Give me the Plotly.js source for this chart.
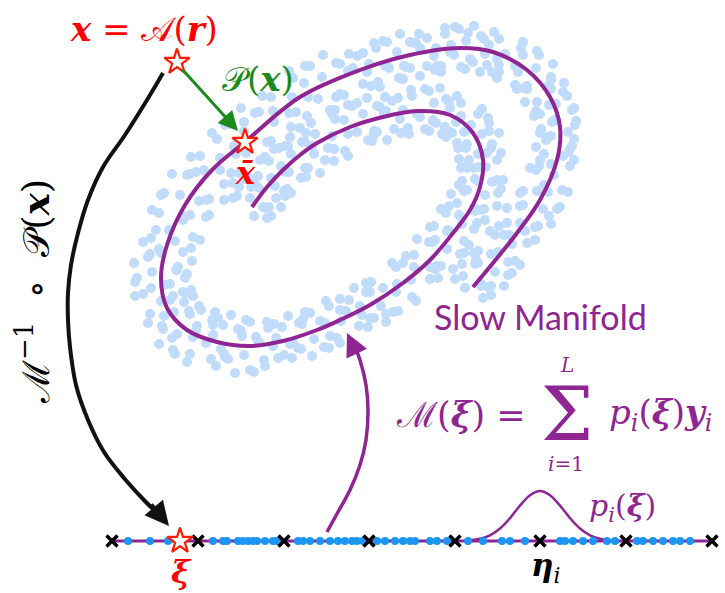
<!DOCTYPE html>
<html><head><meta charset="utf-8">
<script src="https://cdn.plot.ly/plotly-3.0.1.min.js"></script>
<style>html,body{margin:0;padding:0;background:#fff;} #chart{width:725px;height:593px;}</style>
</head><body><div id="chart"></div>
<script>
// Slow manifold centreline (from inner end to outer end)
const spiralX = [252,267,283,300,317,350,383,417,450,473,483,480,470,453,430,403,370,340,317,283,250,217,187,167,161,167,185,212,245,300,360,410,460,493,527,550,560,557,540,517,493,473];
const spiralY = [207,187,170,155,143,127,117,111,115,133,160,187,210,233,260,283,305,320,330,341,346,342,330,308,278,245,205,170,142,97,70,55,48,52,70,97,127,160,200,233,263,287];

// Noisy samples around the manifold (three groups)
const cloudA = [
[267,218],[250,198],[233,198],[237,196],[271,216],
[251,187],[265,208],[281,207],[269,207],[239,187],
[275,186],[249,178],[276,198],[259,188],[258,176],
[291,193],[269,161],[271,178],[265,157],[285,172],
[301,178],[291,154],[274,149],[279,148],[306,177],
[302,142],[305,168],[320,173],[308,168],[290,137],
[328,148],[306,133],[325,160],[312,146],[315,134],
[348,156],[335,119],[332,136],[332,114],[348,134],
[368,140],[363,114],[348,105],[352,106],[372,141],
[377,106],[374,131],[387,140],[377,132],[367,98],
[400,119],[385,97],[394,129],[386,111],[392,101],
[409,134],[412,96],[403,110],[411,90],[417,114],
[425,129],[434,103],[425,89],[429,91],[429,131],
[446,99],[433,121],[442,134],[436,123],[440,88],
[456,122],[457,96],[445,127],[450,108],[461,103],
[446,137],[478,114],[461,116],[482,109],[467,130],
[457,143],[482,134],[488,118],[489,123],[458,148],
[492,144],[467,144],[459,159],[466,148],[499,133],
[479,167],[501,153],[469,160],[487,153],[497,160],
[461,168],[497,180],[486,167],[503,180],[478,181],
[462,181],[485,195],[501,189],[498,193],[459,185],
[484,209],[467,190],[451,194],[464,191],[497,206],
[459,215],[485,220],[457,203],[475,211],[477,223],
[441,209],[464,241],[462,224],[469,245],[448,230],
[434,226],[447,249],[464,253],[460,254],[430,227],
[441,266],[433,242],[417,239],[429,242],[453,269],
[414,267],[438,278],[414,255],[430,267],[430,279],
[392,263],[412,297],[411,280],[416,301],[397,284],
[371,282],[381,306],[398,311],[393,312],[366,283],
[374,318],[370,292],[354,288],[366,292],[386,322],
[346,311],[368,327],[349,300],[362,315],[359,326],
[326,301],[337,338],[341,321],[340,343],[325,323],
[310,313],[314,339],[329,348],[324,347],[305,312],
[301,349],[302,324],[288,316],[299,323],[312,356],
[276,338],[292,358],[282,327],[290,344],[284,355],
[267,322],[264,360],[273,346],[265,366],[259,342],
[250,322],[244,355],[254,372],[250,370],[246,320],
[228,359],[241,331],[231,315],[238,329],[235,373],
[213,335],[216,366],[223,325],[221,349],[211,359],
[215,312],[190,354],[206,343],[187,362],[196,331],
[201,310],[177,334],[175,354],[173,350],[199,306],
[163,329],[190,314],[193,296],[189,311],[159,344],
[170,300],[148,323],[184,302],[164,316],[150,314],
[191,290],[143,294],[161,301],[135,296],[165,285],
[185,278],[152,272],[135,282],[137,278],[187,274],
[148,257],[176,270],[192,261],[178,267],[134,263],
[175,241],[143,242],[183,252],[159,249],[151,238],
[200,240],[159,213],[169,230],[152,210],[183,220],
[206,217],[180,195],[161,195],[164,193],[209,215],
[187,175],[206,200],[224,200],[209,199],[172,174],
[220,170],[191,157],[224,184],[204,170],[200,156],
[244,179],[217,139],[220,158],[212,133],[236,154],
[260,160],[244,131],[225,125],[230,124],[265,159],
[255,113],[267,142],[285,146],[271,141],[241,108],
[289,113],[262,96],[291,127],[273,111],[271,97],
[311,123],[293,78],[292,97],[289,71],[308,97],
[330,110],[322,77],[305,66],[310,66],[335,110],
[336,63],[340,94],[357,103],[344,95],[323,55],
[367,72],[349,54],[363,84],[353,68],[357,56],
[380,87],[376,48],[369,64],[374,43],[385,66],
[399,78],[397,52],[383,41],[387,42],[403,79],
[410,42],[406,67],[420,76],[410,68],[400,34],
[434,56],[419,34],[427,66],[420,48],[427,38],
[441,72],[445,34],[436,48],[445,28],[450,52],
[461,67],[466,41],[455,27],[459,29],[465,69],
[481,36],[470,59],[480,72],[473,62],[474,26],
[497,59],[494,32],[487,65],[489,45],[499,39],
[497,78],[521,48],[505,54],[523,42],[515,66],
[515,85],[536,68],[537,51],[539,55],[517,89],
[551,77],[527,86],[525,102],[527,89],[553,64],
[549,105],[564,83],[537,102],[551,89],[563,92],
[534,116],[572,110],[556,104],[574,108],[556,120],
[541,129],[568,132],[576,121],[575,125],[540,133],
[572,146],[548,137],[536,147],[546,140],[574,139],
[551,164],[574,160],[544,154],[563,156],[570,166],
[530,168],[562,190],[554,175],[568,192],[544,185],
[523,191],[543,209],[560,207],[557,209],[520,193],
[538,226],[523,205],[507,208],[520,206],[551,224],
[509,235],[535,240],[507,223],[525,231],[527,243],
[490,231],[515,261],[512,244],[520,265],[498,252],
[478,251],[495,272],[512,273],[508,275],[474,253],
[491,286],[478,263],[462,264],[475,264],[504,286],
[465,288],[491,295],[463,276],[481,286],[483,298]
];
const cloudB = [
[254,216],[255,186],[285,196],[287,189],[289,172],[305,142],[334,161],[345,151],[357,132],[380,107],
[401,133],[408,128],[420,117],[449,101],[449,134],[450,132],[464,132],[491,148],[465,167],[467,168],
[475,179],[481,210],[449,206],[446,213],[447,231],[437,266],[406,256],[396,267],[383,288],[370,318],
[340,299],[329,306],[320,321],[298,348],[274,324],[268,328],[256,337],[225,357],[218,318],[212,320],
[197,326],[162,326],[186,293],[183,292],[170,284],[150,254],[191,248],[193,237],[190,215],[190,174],
[233,183],[239,173],[246,153],[259,112],[300,128],[307,116],[318,99],[340,64],[371,86],[378,82],
[389,68],[414,43],[435,70],[441,66],[454,55],[484,39],[492,72],[499,72],[518,72],[551,80],
[536,111],[540,114],[552,122],[570,149],[540,160],[536,170],[537,191],[535,227],[499,226],[495,235],
[491,254],[488,287],[455,279]
];
const cloudC = [
[263,207],[255,185],[284,191],[281,166],[288,146],[314,154],[334,149],[344,120],[374,135],[384,113],
[398,98],[419,114],[433,120],[449,102],[452,133],[471,125],[489,131],[478,154],[474,168],[492,182],
[463,189],[474,208],[474,229],[449,231],[435,240],[435,269],[403,263],[396,292],[386,314],[360,306],
[340,310],[330,336],[303,319],[293,342],[278,358],[258,342],[242,336],[224,354],[213,325],[193,337],
[172,338],[174,312],[173,296],[151,288],[177,270],[161,253],[156,230],[183,216],[199,201],[196,172],
[231,173],[234,146],[244,122],[274,122],[296,112],[304,83],[336,97],[348,71],[363,53],[386,65],
[404,66],[416,43],[437,66],[451,45],[468,33],[485,54],[499,65],[523,55],[524,88],[547,87],
[567,96],[555,120],[551,136],[569,152],[539,166],[548,192],[549,216],[520,223],[504,235],[508,262],
[476,260],[481,284]
];
const cloudPts = cloudA.concat(cloudB, cloudC);

// Latent line
const lineX = [110, 712];
const lineY = [541, 541];
const nodeX = [112, 198, 284, 369, 455, 540, 626, 712];
const sampleX = [128,150,168,213,223,227,238,243,248,253,257,265,273,277,298,303,310,320,330,338,345,352,357,363,377,385,395,403,410,415,430,437,447,468,483,502,510,525,560,565,573,583,593,607,615,637,643,653,663,673,680,690];
// Basis bump p_i(xi)
const bumpX = [470,480,490,500,510,520,530,540,550,560,570,580,590,600,610];
const bumpY = [540.3,538.8,535.3,528.5,518.1,505.6,495.2,491,495.2,505.6,518.1,528.5,535.3,538.8,540.3];
// Curved arrows
const pullX = [163,147,125,103,88,78,71,68,68,70,76,88,104,124,142,156];
const pullY = [73,100,135,167,200,233,265,293,320,347,385,420,452,478,498,512];
const liftX = [327,338,350,360,366,368,366,360,355];
const liftY = [532,512,490,465,440,410,385,360,347];
// Stars: A(r), x-bar, xi
const starX = [177, 245, 180];
const starY = [62, 142, 541];

const PURPLE = '#8e2592';
const RED = '#ff1a00';
const GREEN = '#1c8a1c';
const SERIF = 'DejaVu Serif';

const traces = [
  {x: cloudPts.map(p=>p[0]), y: cloudPts.map(p=>p[1]), mode:'markers', type:'scatter',
   marker:{size:10, color:'rgb(193,219,251)'}, hoverinfo:'skip'},
  {x: spiralX, y: spiralY, mode:'lines', type:'scatter',
   line:{color:PURPLE, width:4, shape:'spline', smoothing:1}, hoverinfo:'skip'},
  {x: pullX, y: pullY, mode:'lines', type:'scatter',
   line:{color:'#111', width:4, shape:'spline'}, hoverinfo:'skip'},
  {x: liftX, y: liftY, mode:'lines', type:'scatter',
   line:{color:PURPLE, width:3.5, shape:'spline'}, hoverinfo:'skip'},
  {x: lineX, y: lineY, mode:'lines', type:'scatter',
   line:{color:PURPLE, width:3}, hoverinfo:'skip'},
  {x: bumpX, y: bumpY, mode:'lines', type:'scatter',
   line:{color:PURPLE, width:2.5, shape:'spline'}, hoverinfo:'skip'},
  {x: sampleX, y: sampleX.map(()=>lineY[0]), mode:'markers', type:'scatter',
   marker:{size:8, color:'rgb(28,150,244)'}, hoverinfo:'skip'},
  {x: nodeX, y: nodeX.map(()=>lineY[0]), mode:'markers', type:'scatter',
   marker:{size:11, symbol:'x-thin', line:{color:'#000', width:3.5}}, hoverinfo:'skip'},
  {x: starX, y: starY, mode:'markers', type:'scatter',
   marker:{size:19, symbol:'star', color:'#ffffff', line:{color:RED, width:2.2}}, hoverinfo:'skip'}
];

function lab(x, y, text, size, color, extra) {
  return Object.assign({x:x, y:y, xref:'x', yref:'y', text:text, showarrow:false,
    xanchor:'center', yanchor:'middle', font:{family:SERIF, size:size, color:color}}, extra||{});
}
function arrow(x, y, ax, ay, color, w, s) {
  return {x:x, y:y, ax:ax, ay:ay, xref:'x', yref:'y', axref:'x', ayref:'y', text:'',
    showarrow:true, arrowhead:2, arrowsize:s, arrowwidth:w, arrowcolor:color, standoff:0, startstandoff:0};
}

const annotations = [
  lab(144, 29, '<b><i>x</i></b> = 𝒜(<b><i>r</i></b>)', 34, '#ff0000'),
  lab(258, 79, '𝒫(<b><i>x</i></b>)', 34, GREEN),
  lab(245, 173, '<b><i>x̄</i></b>', 32, '#ff0000'),
  lab(181, 572, '<b><i>ξ</i></b>', 32, '#ff0000'),
  lab(545, 567, '<b><i>η</i></b><sub><i>i</i></sub>', 31, '#000'),
  lab(622, 507, '<i>p</i><sub><i>i</i></sub>(<b><i>ξ</i></b>)', 30, PURPLE),
  lab(540, 316, 'Slow Manifold', 34, PURPLE, {font:{family:'Lato', size:34, color:PURPLE}}),
  lab(461, 414, 'ℳ(<b><i>ξ</i></b>) =', 35, PURPLE),
  lab(567, 414, 'Σ', 74, PURPLE),
  lab(567, 365, '<i>L</i>', 20, PURPLE),
  lab(566, 464, '<i>i</i>=1', 20, PURPLE),
  lab(660, 414, '<i>p</i><sub><i>i</i></sub>(<b><i>ξ</i></b>)<b><i>y</i></b><sub><i>i</i></sub>', 34, PURPLE),
  lab(33, 292, 'ℳ<sup>−1</sup>  ∘  𝒫(<b><i>x</i></b>)', 37, '#000', {textangle:-90}),
  arrow(238, 131, 181, 68, GREEN, 3, 1.3),
  arrow(169, 526, 150, 503, '#111', 4, 1.2),
  arrow(347, 333, 356, 352, PURPLE, 3.5, 1.3)
];

const layout = {
  width:725, height:593, margin:{l:0,r:0,t:0,b:0,pad:0},
  paper_bgcolor:'#fff', plot_bgcolor:'#fff', showlegend:false,
  xaxis:{range:[0,725], visible:false, fixedrange:true},
  yaxis:{range:[593,0], visible:false, fixedrange:true},
  annotations: annotations,
  font:{family:SERIF}
};
Plotly.newPlot('chart', traces, layout, {staticPlot:true, displayModeBar:false});
</script></body></html>
